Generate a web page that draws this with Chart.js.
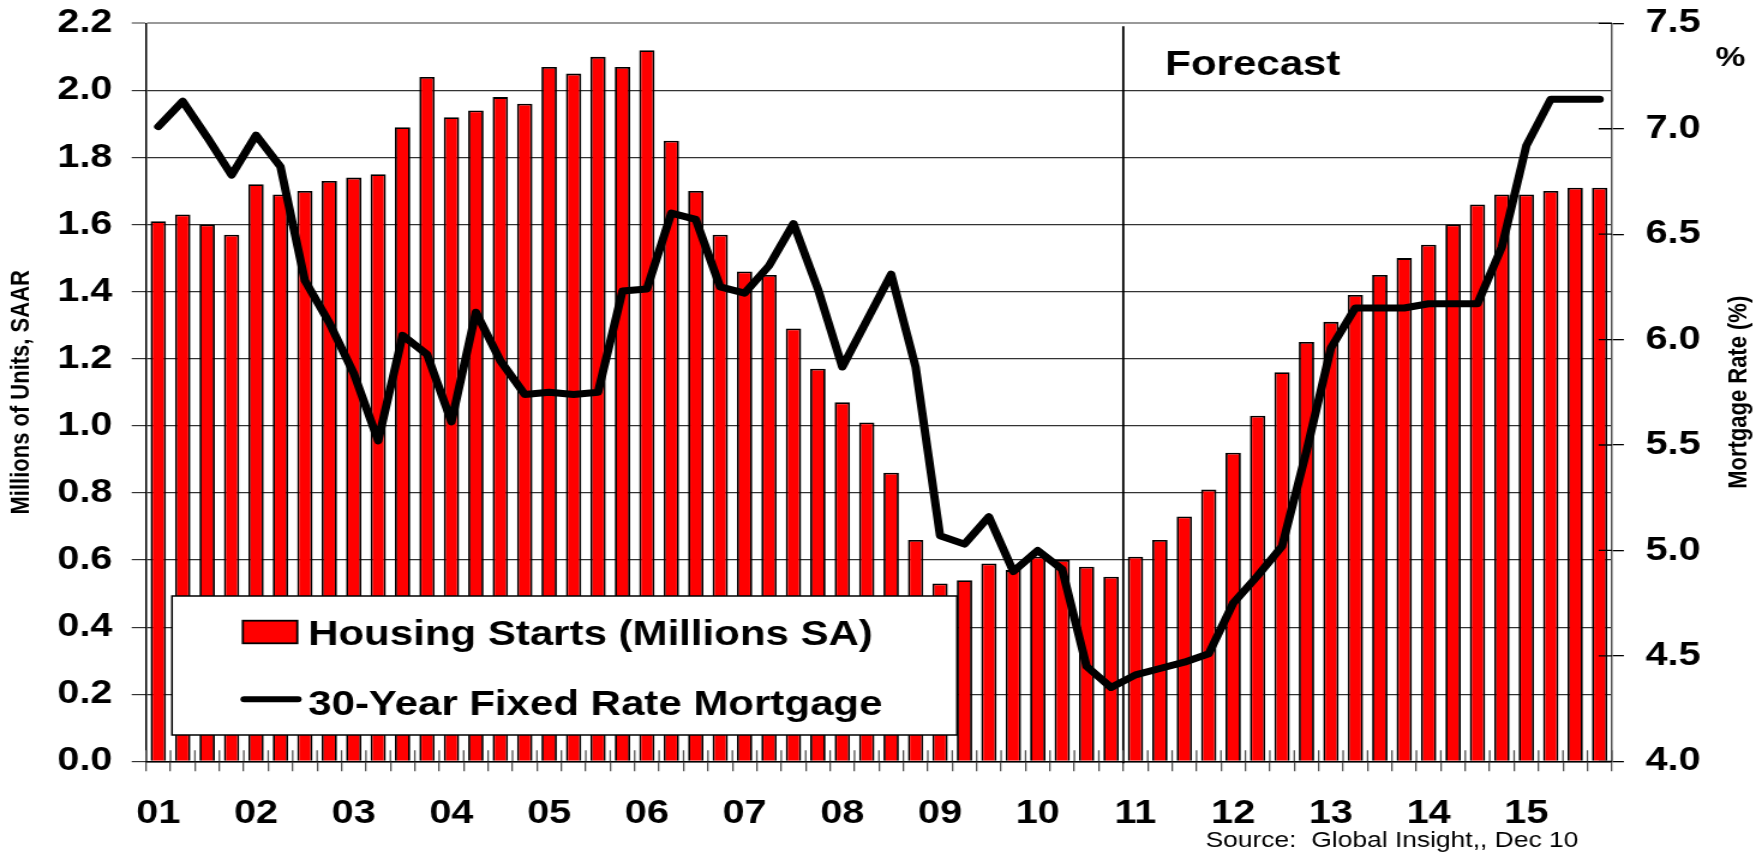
<!DOCTYPE html>
<html>
<head>
<meta charset="utf-8">
<script src="https://cdn.jsdelivr.net/npm/chart.js@4.4.1/dist/chart.umd.min.js"></script>
<style>
html, body { margin: 0; padding: 0; background: #fff; overflow: hidden; }
/* the original picture is stretched sideways, so the chart is drawn narrower and widened */
#wrap { width: 1468px; height: 855px; transform: scaleX(1.20027); transform-origin: 0 0; }
#c { display: block; }
</style>
</head>
<body>
<div id="wrap"><canvas id="c" width="1468" height="855"></canvas></div>
<script>
var years = ['01','02','03','04','05','06','07','08','09','10','11','12','13','14','15'];
var quarters = ['Q1','Q2','Q3','Q4'];
var forecastStart = '11Q1';

// housing starts, millions of units SAAR, one value per quarter
var housingStarts = [
  1.61, 1.63, 1.60, 1.57,  1.72, 1.69, 1.70, 1.73,  1.74, 1.75, 1.89, 2.04,
  1.92, 1.94, 1.98, 1.96,  2.07, 2.05, 2.10, 2.07,  2.12, 1.85, 1.70, 1.57,
  1.46, 1.45, 1.29, 1.17,  1.07, 1.01, 0.86, 0.66,  0.53, 0.54, 0.59, 0.57,
  0.61, 0.60, 0.58, 0.55,  0.61, 0.66, 0.73, 0.81,  0.92, 1.03, 1.16, 1.25,
  1.31, 1.39, 1.45, 1.50,  1.54, 1.60, 1.66, 1.69,  1.69, 1.70, 1.71, 1.71
];

// 30-year fixed mortgage rate, %
var mortgageRate = [
  7.01, 7.13, 6.96, 6.78,  6.97, 6.82, 6.28, 6.08,  5.84, 5.52, 6.02, 5.93,
  5.61, 6.13, 5.90, 5.74,  5.75, 5.74, 5.75, 6.23,  6.24, 6.60, 6.57, 6.25,
  6.22, 6.35, 6.55, 6.24,  5.87, 6.09, 6.31, 5.87,  5.07, 5.03, 5.16, 4.90,
  5.00, 4.91, 4.45, 4.35,  4.41, 4.44, 4.47, 4.51,  4.75, 4.88, 5.02, 5.47,
  5.96, 6.15, 6.15, 6.15,  6.17, 6.17, 6.17, 6.44,  6.92, 7.14, 7.14, 7.14
];

var categories = [];
years.forEach(function (y) {
  quarters.forEach(function (q) { categories.push(y + q); });
});

var FONT = 'Liberation Sans, Arial, Helvetica, sans-serif';

function noPad(s) {
  s.paddingTop = 0; s.paddingBottom = 0; s.paddingLeft = 0; s.paddingRight = 0;
}

var extras = {
  id: 'extras',
  beforeDatasetsDraw: function (chart) {
    var ctx = chart.ctx, a = chart.chartArea, x = chart.scales.x;
    var i = categories.indexOf(forecastStart);
    var xf = (x.getPixelForValue(i - 1) + x.getPixelForValue(i)) / 2;
    ctx.save();
    ctx.strokeStyle = '#000';
    ctx.lineWidth = 1.8;
    ctx.beginPath();
    ctx.moveTo(xf, a.top + 3);
    ctx.lineTo(xf, a.bottom + 2);
    ctx.stroke();

    // short inner tick marks between quarters
    ctx.strokeStyle = '#555';
    ctx.lineWidth = 1.3;
    var half = (x.getPixelForValue(1) - x.getPixelForValue(0)) / 2;
    ctx.beginPath();
    for (var k = 0; k <= categories.length; k++) {
      var px = x.getPixelForValue(0) - half + k * half * 2;
      ctx.moveTo(px, a.bottom);
      ctx.lineTo(px, a.bottom - 11);
    }
    ctx.stroke();
    ctx.restore();
  },
  afterDatasetsDraw: function (chart) {
    var ctx = chart.ctx, a = chart.chartArea, y1 = chart.scales.y1;
    ctx.save();
    // inner tick marks of the right axis
    ctx.strokeStyle = '#000';
    ctx.lineWidth = 1.3;
    ctx.beginPath();
    y1.ticks.forEach(function (t) {
      var py = y1.getPixelForValue(t.value);
      ctx.moveTo(a.right, py);
      ctx.lineTo(a.right - 11, py);
    });
    ctx.stroke();

    // legend box
    var bx = a.left + 21.6, by = a.bottom - 165.3, bw = 654, bh = 139;
    ctx.fillStyle = '#fff';
    ctx.fillRect(bx, by, bw, bh);
    ctx.strokeStyle = '#000';
    ctx.lineWidth = 1.5;
    ctx.strokeRect(bx, by, bw, bh);

    var bars = chart.data.datasets[0], line = chart.data.datasets[1];
    ctx.fillStyle = bars.backgroundColor;
    ctx.fillRect(bx + 59, by + 24.7, 45.4, 22.6);
    ctx.strokeStyle = '#000';
    ctx.lineWidth = 1.8;
    ctx.strokeRect(bx + 59, by + 24.7, 45.4, 22.6);

    ctx.strokeStyle = line.borderColor;
    ctx.lineWidth = 6;
    ctx.lineCap = 'round';
    ctx.beginPath();
    ctx.moveTo(bx + 60, by + 103.3);
    ctx.lineTo(bx + 105, by + 103.3);
    ctx.stroke();

    ctx.fillStyle = '#000';
    ctx.font = 'bold 35px ' + FONT;
    ctx.textAlign = 'left';
    ctx.textBaseline = 'alphabetic';
    ctx.fillText(bars.label, bx + 113.4, by + 49);
    ctx.fillText(line.label, bx + 113.4, by + 119);
    ctx.restore();
  },
  afterDraw: function (chart) {
    var ctx = chart.ctx, a = chart.chartArea, x = chart.scales.x;
    var i = categories.indexOf(forecastStart);
    var xf = (x.getPixelForValue(i - 1) + x.getPixelForValue(i)) / 2;
    ctx.save();
    ctx.fillStyle = '#000';
    ctx.textBaseline = 'alphabetic';
    ctx.textAlign = 'left';
    ctx.font = 'bold 35px ' + FONT;
    ctx.fillText('Forecast', xf + 35, 75);

    ctx.textAlign = 'center';
    ctx.textBaseline = 'middle';
    ctx.font = 'bold 28px ' + FONT;
    ctx.fillText('%', 1441.7, 58);

    ctx.save();
    ctx.translate(1449, (a.top + a.bottom) / 2);
    ctx.rotate(-Math.PI / 2);
    ctx.font = 'bold 22px ' + FONT;
    ctx.fillText('Mortgage Rate (%)', 0, 0);
    ctx.restore();

    ctx.textAlign = 'right';
    ctx.textBaseline = 'alphabetic';
    ctx.font = '22px ' + FONT;
    ctx.fillText('Source:  Global Insight,, Dec 10', 1315, 846.7);
    ctx.restore();
  }
};

new Chart(document.getElementById('c'), {
  type: 'bar',
  data: {
    labels: categories,
    datasets: [
      {
        label: 'Housing Starts (Millions SA)',
        data: housingStarts,
        yAxisID: 'y',
        backgroundColor: '#ff0000',
        borderColor: '#000',
        borderWidth: 1.8,
        barPercentage: 0.63,
        categoryPercentage: 1.0,
        order: 1
      },
      {
        type: 'line',
        label: '30-Year Fixed Rate Mortgage',
        data: mortgageRate,
        yAxisID: 'y1',
        borderColor: '#000',
        backgroundColor: '#000',
        borderWidth: 7,
        borderCapStyle: 'round',
        borderJoinStyle: 'round',
        pointRadius: 0,
        tension: 0,
        fill: false,
        order: 0
      }
    ]
  },
  options: {
    responsive: false,
    animation: false,
    devicePixelRatio: 1,
    layout: { padding: { top: 23.3, left: 0, right: 0, bottom: 0 } },
    plugins: {
      legend: { display: false },
      tooltip: { enabled: false }
    },
    scales: {
      x: {
        grid: { drawOnChartArea: false, drawTicks: true, tickLength: 10, color: '#555', lineWidth: 1.3 },
        border: { color: '#000', width: 1.5 },
        ticks: {
          autoSkip: false, maxRotation: 0, minRotation: 0, padding: 22.5,
          color: '#000', font: { family: FONT, size: 33, weight: 'bold' },
          callback: function (v, i) { return i % 4 === 0 ? years[i / 4] : ''; }
        },
        afterFit: function (s) { s.height = 93.7; noPad(s); }
      },
      y: {
        position: 'left',
        min: 0, max: 2.2,
        grid: {
          color: function (c) { return c.tick && Math.abs(c.tick.value - 2.2) < 1e-6 ? '#999' : '#333'; },
          lineWidth: function (c) { return c.tick && Math.abs(c.tick.value - 2.2) < 1e-6 ? 2 : 1.2; },
          tickLength: 12
        },
        border: { color: '#000', width: 1.5 },
        ticks: {
          stepSize: 0.2, padding: 16, color: '#000',
          font: { family: FONT, size: 33, weight: 'bold' },
          callback: function (v) { return v.toFixed(1); }
        },
        title: {
          display: true, text: 'Millions of Units, SAAR', color: '#000',
          font: { family: FONT, size: 22, weight: 'bold' },
          padding: { top: 5, bottom: 0 }
        },
        afterFit: function (s) { s.width = 121.7; noPad(s); }
      },
      y1: {
        position: 'right',
        min: 4, max: 7.5,
        grid: { drawOnChartArea: false, tickLength: 10, color: '#000', lineWidth: 1.3 },
        border: { color: '#555', width: 1.5 },
        ticks: {
          stepSize: 0.5, padding: 18, color: '#000',
          font: { family: FONT, size: 33, weight: 'bold' },
          callback: function (v) { return v.toFixed(1); }
        },
        afterFit: function (s) { s.width = 125.1; noPad(s); }
      }
    }
  },
  plugins: [extras]
});
</script>
</body>
</html>
